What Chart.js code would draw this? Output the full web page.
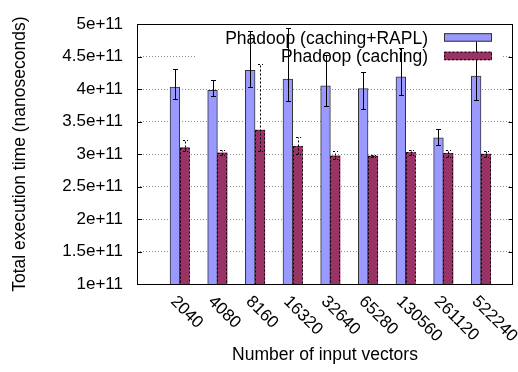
<!DOCTYPE html>
<html>
<head>
<meta charset="utf-8">
<script src="https://cdn.jsdelivr.net/npm/chart.js@4"></script>
<style>
  html, body { margin: 0; padding: 0; background: #fff; }
  #wrap { width: 518px; height: 372px; }
</style>
</head>
<body>
<div id="wrap"><canvas id="execChart" width="518" height="372"></canvas></div>
<script>
// input sizes and measured run times (ns)
const categories = ['2040', '4080', '8160', '16320', '32640', '65280', '130560', '261120', '522240'];

const raplMean = [4.03e11, 3.98e11, 4.29e11, 4.155e11, 4.05e11, 4.01e11, 4.19e11, 3.25e11, 4.2e11];
const raplLow  = [3.845e11, 3.89e11, 4.03e11, 3.82e11, 3.74e11, 3.69e11, 3.91e11, 3.14e11, 3.83e11];
const raplHigh = [4.31e11, 4.14e11, 4.89e11, 4.94e11, 4.52e11, 4.27e11, 4.64e11, 3.39e11, 4.78e11];

const cachingMean = [3.1e11, 3.02e11, 3.37e11, 3.12e11, 2.975e11, 2.97e11, 3.025e11, 3.01e11, 3.0e11];
const cachingLow  = [3.05e11, 2.98e11, 3.05e11, 3.0e11, 2.93e11, 2.95e11, 2.99e11, 2.96e11, 2.96e11];
const cachingHigh = [3.21e11, 3.07e11, 4.38e11, 3.26e11, 3.05e11, 2.99e11, 3.06e11, 3.06e11, 3.05e11];

const yTickLabels = ['1e+11', '1.5e+11', '2e+11', '2.5e+11', '3e+11', '3.5e+11', '4e+11', '4.5e+11', '5e+11'];
const seriesNames = ['Phadoop (caching+RAPL)', 'Phadoop (caching)'];

const FONT = '"Liberation Sans", Arial, Helvetica, sans-serif';
const BLUE = '#9999ff';
const WINE = '#993366';

// white key box with labels under the bars, sample boxes on top of the error bars
const keyBox = {
  id: 'keyBox',
  beforeDatasetsDraw(chart) {
    const { ctx, chartArea: a } = chart;
    ctx.save();
    ctx.fillStyle = '#fff';
    ctx.fillRect(a.left + 58, a.top + 2, a.right - a.left - 68, 42);
    ctx.fillStyle = '#000';
    ctx.font = '17.5px ' + FONT;
    ctx.textAlign = 'right';
    ctx.textBaseline = 'alphabetic';
    ctx.fillText(seriesNames[0], a.right - 85, a.top + 20);
    ctx.fillText(seriesNames[1], a.right - 85, a.top + 38);
    ctx.restore();
  },
  afterDatasetsDraw(chart) {
    const { ctx, chartArea: a } = chart;
    const x0 = a.right - 69, w = 48, h = 8.5;
    ctx.save();
    ctx.lineWidth = 1;
    ctx.fillStyle = BLUE;
    ctx.fillRect(x0, a.top + 9, w, h);
    ctx.strokeStyle = '#333';
    ctx.strokeRect(x0 + 0.5, a.top + 9.5, w - 1, h - 1);
    ctx.fillStyle = WINE;
    ctx.fillRect(x0, a.top + 27.5, w, h);
    ctx.strokeStyle = '#000';
    ctx.setLineDash([2, 2]);
    ctx.strokeRect(x0 + 0.5, a.top + 28, w - 1, h - 1);
    ctx.restore();
  }
};

// dashed outline on the caching bars, then error bars for both series
const barExtras = {
  id: 'barExtras',
  afterDatasetsDraw(chart) {
    const { ctx, chartArea: a } = chart;
    const yScale = chart.scales.y;
    ctx.save();
    ctx.beginPath();
    ctx.rect(a.left, a.top, a.right - a.left, a.bottom - a.top);
    ctx.clip();
    ctx.lineWidth = 1;

    ctx.strokeStyle = '#000';
    ctx.setLineDash([2, 2]);
    chart.getDatasetMeta(1).data.forEach(bar => {
      const { x, y, base, width } = bar.getProps(['x', 'y', 'base', 'width'], true);
      const b = Math.min(base, a.bottom);
      ctx.strokeRect(Math.round(x - width / 2) + 0.5, Math.round(y) + 0.5, Math.round(width) - 1, b - Math.round(y));
    });

    const series = [[raplLow, raplHigh, []], [cachingLow, cachingHigh, [2, 2]]];
    series.forEach(([lo, hi, dash], di) => {
      ctx.setLineDash(dash);
      ctx.strokeStyle = '#000';
      chart.getDatasetMeta(di).data.forEach((bar, i) => {
        const x = Math.round(bar.x) + 0.5;
        const yl = Math.round(yScale.getPixelForValue(lo[i])) + 0.5;
        const yh = Math.round(yScale.getPixelForValue(hi[i])) + 0.5;
        ctx.beginPath();
        ctx.moveTo(x, yl); ctx.lineTo(x, yh);
        ctx.moveTo(x - 2.5, yl); ctx.lineTo(x + 2.5, yl);
        ctx.moveTo(x - 2.5, yh); ctx.lineTo(x + 2.5, yh);
        ctx.stroke();
      });
    });
    ctx.restore();
  }
};

// frame, inward y tick marks and slanted category labels
const frame = {
  id: 'frame',
  afterDraw(chart) {
    const { ctx, chartArea: a } = chart;
    const yScale = chart.scales.y, xScale = chart.scales.x;
    ctx.save();
    ctx.strokeStyle = '#000';
    ctx.lineWidth = 1;
    ctx.setLineDash([]);
    const L = Math.round(a.left) + 0.5, R = Math.round(a.right) - 0.5;
    const T = Math.round(a.top) + 0.5, B = Math.round(a.bottom) + 0.5;
    ctx.strokeRect(L, T, R - L, B - T);
    ctx.beginPath();
    yScale.ticks.forEach(t => {
      const py = Math.round(yScale.getPixelForValue(t.value)) + 0.5;
      ctx.moveTo(L, py); ctx.lineTo(L + 4.5, py);
      ctx.moveTo(R - 4, py); ctx.lineTo(R, py);
    });
    ctx.stroke();

    ctx.fillStyle = '#000';
    ctx.font = '17px ' + FONT;
    ctx.textAlign = 'left';
    ctx.textBaseline = 'middle';
    categories.forEach((c, i) => {
      const px = xScale.getPixelForValue(i);
      ctx.save();
      ctx.translate(px - 6.5, a.bottom + 15);
      ctx.rotate(Math.PI / 4);
      ctx.fillText(c, 0, 0);
      ctx.restore();
    });
    ctx.restore();
  }
};

const ctx = document.getElementById('execChart').getContext('2d');
new Chart(ctx, {
  type: 'bar',
  data: {
    datasets: [{
      label: seriesNames[0],
      data: raplMean.map((v, i) => ({ x: i, y: v })),
      backgroundColor: BLUE,
      borderColor: '#333',
      borderWidth: 1,
      barThickness: 9.7
    }, {
      label: seriesNames[1],
      data: cachingMean.map((v, i) => ({ x: i, y: v })),
      backgroundColor: WINE,
      borderWidth: 0,
      barThickness: 9.7
    }]
  },
  options: {
    responsive: false,
    animation: false,
    layout: { padding: { top: 13, right: 5, left: 0, bottom: 0 } },
    plugins: {
      legend: { display: false },
      tooltip: { enabled: false }
    },
    scales: {
      x: {
        type: 'linear',
        offset: false,
        min: -1.135,
        max: 8.85,
        grid: { display: false, offset: false },
        border: { display: false },
        ticks: { display: false },
        afterFit: s => { s.height = 88; },
        title: {
          display: true,
          text: 'Number of input vectors',
          color: '#000',
          font: { family: FONT, size: 17.5 },
          padding: { top: 0, bottom: 6 }
        }
      },
      y: {
        min: 1e11,
        max: 5e11,
        afterFit: s => { s.width = 137; },
        grid: { color: '#8a8a8a', drawTicks: false },
        border: { display: false, dash: [1, 2] },
        ticks: {
          stepSize: 0.5e11,
          padding: 14,
          color: '#000',
          font: { family: FONT, size: 17 },
          callback: (v, i) => yTickLabels[i]
        },
        title: {
          display: true,
          text: 'Total execution time (nanoseconds)',
          color: '#000',
          font: { family: FONT, size: 17.5 },
          padding: { top: 10, bottom: 0 }
        }
      }
    }
  },
  plugins: [barExtras, keyBox, frame]
});
</script>
</body>
</html>
